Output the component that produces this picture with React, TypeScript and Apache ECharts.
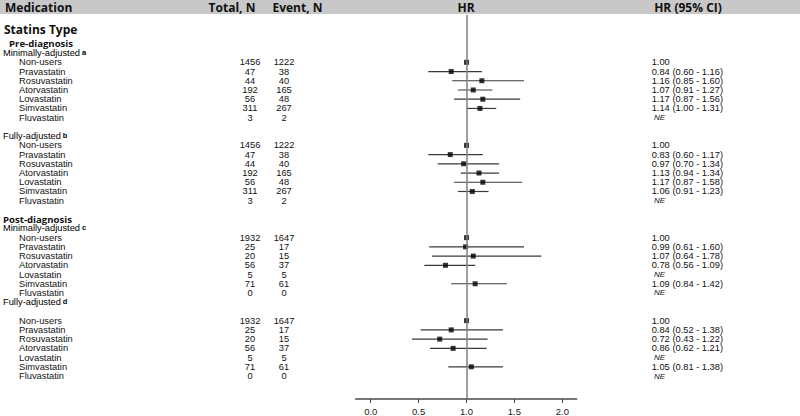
import React, { useEffect, useRef } from "react";
import * as echarts from "echarts";

// ---------- data ----------
const medications = ["Non-users", "Pravastatin", "Rosuvastatin", "Atorvastatin", "Lovastatin", "Simvastatin", "Fluvastatin"];
const sections = ["Pre-diagnosis", "Post-diagnosis"];
const adjustments = ["Minimally-adjusted", "Fully-adjusted"];
const footnotes = ["a", "b", "c", "d"];

const totalPre = [1456, 47, 44, 192, 56, 311, 3];
const eventPre = [1222, 38, 40, 165, 48, 267, 2];
const totalPost = [1932, 25, 20, 56, 5, 71, 0];
const eventPost = [1647, 17, 15, 37, 5, 61, 0];

const preMinHR = [1.0, 0.84, 1.16, 1.07, 1.17, 1.14, null];
const preMinLo = [null, 0.6, 0.85, 0.91, 0.87, 1.0, null];
const preMinHi = [null, 1.16, 1.6, 1.27, 1.56, 1.31, null];

const preFullHR = [1.0, 0.83, 0.97, 1.13, 1.17, 1.06, null];
const preFullLo = [null, 0.6, 0.7, 0.94, 0.87, 0.91, null];
const preFullHi = [null, 1.17, 1.34, 1.34, 1.58, 1.23, null];

const postMinHR = [1.0, 0.99, 1.07, 0.78, null, 1.09, null];
const postMinLo = [null, 0.61, 0.64, 0.56, null, 0.84, null];
const postMinHi = [null, 1.6, 1.78, 1.09, null, 1.42, null];

const postFullHR = [1.0, 0.84, 0.72, 0.86, null, 1.05, null];
const postFullLo = [null, 0.52, 0.43, 0.62, null, 0.81, null];
const postFullHi = [null, 1.38, 1.22, 1.21, null, 1.38, null];

const axisTicks = [0, 0.5, 1.0, 1.5, 2.0];

// ---------- structure ----------
const groups = [
  { adj: 0, note: 0, hr: preMinHR, lo: preMinLo, hi: preMinHi, total: totalPre, event: eventPre },
  { adj: 1, note: 1, hr: preFullHR, lo: preFullLo, hi: preFullHi, total: totalPre, event: eventPre },
  { adj: 0, note: 2, hr: postMinHR, lo: postMinLo, hi: postMinHi, total: totalPost, event: eventPost },
  { adj: 1, note: 3, hr: postFullHR, lo: postFullLo, hi: postFullHi, total: totalPost, event: eventPost },
];

const LAYOUT = [
  { kind: "section", s: 0 },
  { kind: "adj", g: 0 },
  { kind: "items", g: 0 },
  { kind: "gap" },
  { kind: "adj", g: 1 },
  { kind: "items", g: 1 },
  { kind: "gap" },
  { kind: "section", s: 1 },
  { kind: "adj", g: 2 },
  { kind: "items", g: 2 },
  { kind: "adj", g: 3 },
  { kind: "gap" },
  { kind: "items", g: 3 },
];

// styling: left offset of the section headings
const SECTION_X = [9, 3];

type Row = { row: number; type: string; text?: string; note?: string; g?: number; i?: number; s?: number };

function buildRows(): Row[] {
  const rows: Row[] = [];
  let r = 0;
  for (const e of LAYOUT as any[]) {
    if (e.kind === "section") rows.push({ row: r++, type: "section", text: sections[e.s], s: e.s });
    else if (e.kind === "adj") {
      const g = groups[e.g];
      rows.push({ row: r++, type: "adj", text: adjustments[g.adj], note: footnotes[g.note] });
    } else if (e.kind === "items") {
      medications.forEach((_, i) => rows.push({ row: r++, type: "item", g: e.g, i }));
    } else r++;
  }
  return rows;
}

const fmt = (v: number) => v.toFixed(2);

export default function App() {
  const ref = useRef<HTMLDivElement>(null);
  useEffect(() => {
    if (!ref.current) return;
    const chart = echarts.init(ref.current, null, { renderer: "svg" });
    const rows = buildRows();
    const itemRows = rows.filter((r) => r.type === "item");

    const points: number[][] = [];
    const cis: number[][] = [];
    itemRows.forEach((r) => {
      const g = groups[r.g!];
      const hr = g.hr[r.i!];
      if (hr != null) points.push([hr, r.row]);
      const lo = g.lo[r.i!];
      const hi = g.hi[r.i!];
      if (lo != null && hi != null) cis.push([lo, hi, r.row]);
    });

    const BODY = "'Liberation Sans', Arial, sans-serif";
    const HEAD = "'Open Sans', 'Noto Sans', sans-serif";

    const headerText = (text: string, x: number, align: string) => ({
      type: "text",
      x,
      y: 7.5,
      style: { text, fill: "#111", font: `bold 12px ${HEAD}`, align, verticalAlign: "middle" },
    });

    const option: any = {
      animation: false,
      grid: { left: 355.7, right: 223.3, top: 15, bottom: 17 },
      xAxis: {
        type: "value",
        position: "bottom",
        min: -0.157,
        max: 2.15,
        splitLine: { show: false },
        axisLine: { show: true, onZero: false, lineStyle: { color: "#4a4a4a", width: 1.5 } },
        axisTick: { show: true, customValues: axisTicks, length: 4, lineStyle: { color: "#4a4a4a", width: 1 } },
        axisLabel: {
          customValues: axisTicks,
          formatter: (v: number) => v.toFixed(1),
          fontSize: 9.5,
          fontFamily: BODY,
          color: "#222",
          margin: 7,
        },
      },
      yAxis: { type: "value", inverse: true, min: -3.127, max: 38.49, show: false },
      graphic: [
        { type: "rect", shape: { x: 0, y: 0, width: 800, height: 14 }, style: { fill: "#c8c8c8" }, z: 0 },
        headerText("Medication", 5, "left"),
        headerText("Total, N", 232, "center"),
        headerText("Event, N", 297.5, "center"),
        headerText("HR", 466, "center"),
        headerText("HR (95% CI)", 688, "center"),
        {
          type: "text",
          x: 4,
          y: 29,
          style: { text: "Statins Type", fill: "#111", font: `bold 12px ${HEAD}`, verticalAlign: "middle" },
        },
      ],
      series: [
        {
          type: "custom",
          name: "CI",
          data: cis,
          z: 2,
          renderItem: (params: any, api: any) => {
            const p1 = api.coord([api.value(0), api.value(2)]);
            const p2 = api.coord([api.value(1), api.value(2)]);
            return {
              type: "line",
              shape: { x1: p1[0], y1: p1[1], x2: p2[0], y2: p2[1] },
              style: { stroke: "#3a3a3a", lineWidth: 1.2 },
            };
          },
        },
        {
          type: "scatter",
          name: "HR",
          data: points,
          symbol: "rect",
          symbolSize: 5,
          itemStyle: { color: "#000" },
          z: 3,
        },
        {
          type: "line",
          name: "ref",
          data: [],
          z: 5,
          markLine: {
            silent: true,
            symbol: "none",
            label: { show: false },
            lineStyle: { color: "#808080", width: 1.5, type: "solid" },
            data: [{ xAxis: 1 }],
          },
        },
        {
          type: "custom",
          name: "table",
          data: rows.map((r) => [0, r.row]),
          clip: false,
          z: 4,
          renderItem: (params: any, api: any) => {
            const r = rows[params.dataIndex];
            const y = api.coord([0, r.row])[1];
            const children: any[] = [];
            if (r.type === "section") {
              children.push({
                type: "text",
                x: SECTION_X[r.s!],
                y,
                style: { text: r.text, fill: "#111", font: `bold 9.6px ${HEAD}`, verticalAlign: "middle", lineHeight: 9 },
              });
            } else if (r.type === "adj") {
              children.push({
                type: "text",
                x: 3,
                y,
                style: {
                  text: `{m|${r.text}}{s|${r.note}}`,
                  verticalAlign: "middle",
                  rich: {
                    m: { fontSize: 9.3, fontFamily: BODY, color: "#111", verticalAlign: "bottom", lineHeight: 9 },
                    s: { fontSize: 7.5, fontWeight: "bold", fontFamily: BODY, color: "#111", verticalAlign: "top", lineHeight: 9, padding: [0, 0, 0, 2] },
                  },
                },
              });
            } else if (r.type === "item") {
              const g = groups[r.g!];
              const i = r.i!;
              const base = { fill: "#111", font: `9.3px ${BODY}`, verticalAlign: "middle" };
              children.push({ type: "text", x: 19, y, style: { ...base, text: medications[i] } });
              children.push({ type: "text", x: 250, y, style: { ...base, text: String(g.total[i]), align: "center" } });
              children.push({ type: "text", x: 284, y, style: { ...base, text: String(g.event[i]), align: "center" } });
              const hr = g.hr[i];
              const lo = g.lo[i];
              const hi = g.hi[i];
              if (hr == null) {
                children.push({
                  type: "text",
                  x: 654,
                  y,
                  style: { fill: "#111", font: `italic 8px ${BODY}`, verticalAlign: "middle", text: "NE" },
                });
              } else {
                const ci = lo != null && hi != null ? `${fmt(hr)} (${fmt(lo)} - ${fmt(hi)})` : fmt(hr);
                children.push({ type: "text", x: 651.7, y, style: { ...base, text: ci } });
              }
            }
            return { type: "group", children };
          },
        },
      ],
    };
    chart.setOption(option);
    return () => chart.dispose();
  }, []);
  return <div ref={ref} style={{ position: "absolute", left: 0, top: 0, width: 800, height: 416 }} />;
}
